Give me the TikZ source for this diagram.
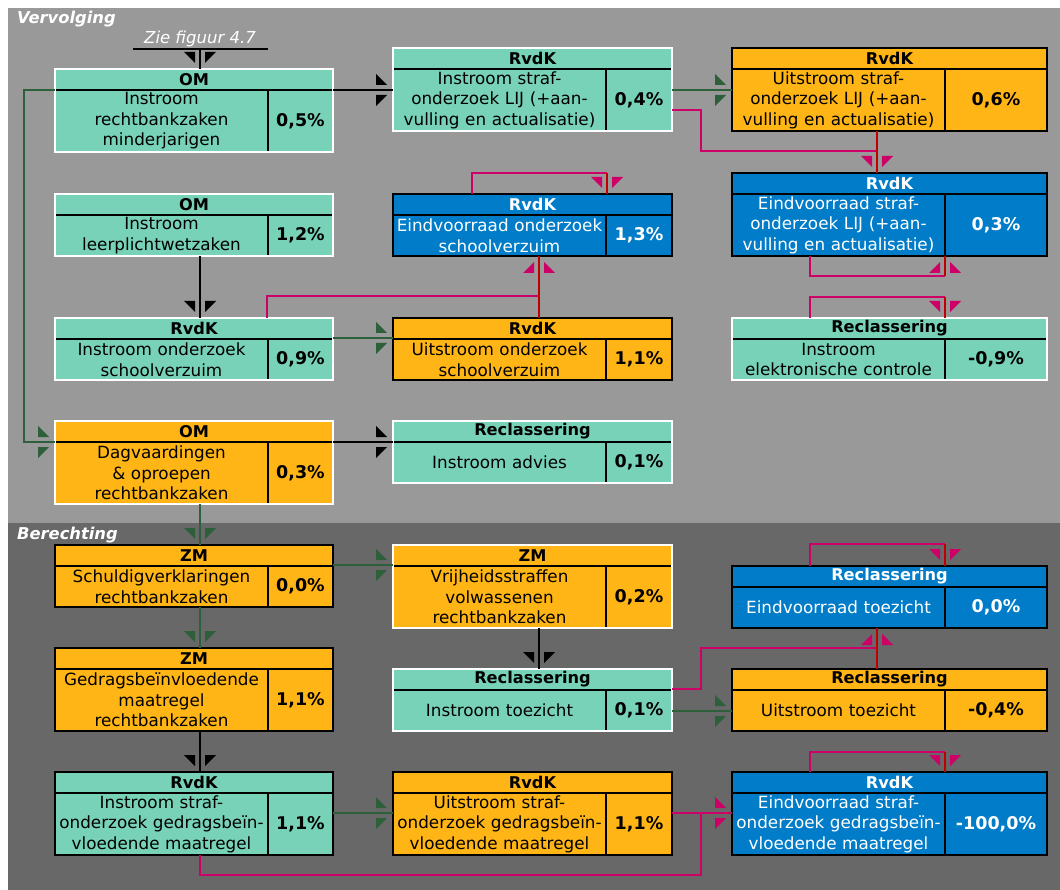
\documentclass[tikz,border=0pt]{standalone}
\usepackage{fontspec}
\setmainfont{DejaVu Sans}
\usetikzlibrary{calc}
\definecolor{cgreen}{HTML}{77D2B8}
\definecolor{corange}{HTML}{FFB515}
\definecolor{cblue}{HTML}{007CC8}
\definecolor{clight}{HTML}{999999}
\definecolor{cdark}{HTML}{686868}
\definecolor{cline}{HTML}{2D5F3B}
\definecolor{cmag}{HTML}{CC0066}
\definecolor{cred}{HTML}{C00000}
\tikzset{
  gw/.style={bfill/.style={fill=cgreen}, bdraw/.style={draw=white}, txt/.style={text=black}},
  gb/.style={bfill/.style={fill=cgreen}, bdraw/.style={draw=black}, txt/.style={text=black}},
  ow/.style={bfill/.style={fill=corange}, bdraw/.style={draw=white}, txt/.style={text=black}},
  ob/.style={bfill/.style={fill=corange}, bdraw/.style={draw=black}, txt/.style={text=black}},
  bb/.style={bfill/.style={fill=cblue}, bdraw/.style={draw=black}, txt/.style={text=white}},
  innerline/.style={draw=black, line width=2.2pt},
  borderline/.style={line width=2.6pt},
  headtext/.style={font=\bfseries\fontsize{16.2}{18}\selectfont, inner sep=0pt},
  bodytext/.style={font=\fontsize{16.8}{20.5}\selectfont, text width=213pt, align=center, inner sep=0pt},
  valtext/.style={font=\bfseries\fontsize{17.5}{19}\selectfont, inner sep=0pt},
  kline/.style={draw=black, line width=2.6pt},
  gline/.style={draw=cline, line width=2.6pt},
  mline/.style={draw=cmag, line width=2.6pt},
  rline/.style={draw=cred, line width=2.6pt},
  title/.style={text=white, font=\bfseries\itshape\fontsize{16.3}{18}\selectfont, inner sep=0pt, anchor=base west},
}
% name, x, y, width, height, scheme, header, body, value
\newcommand\flowbox[9]{%
\begin{scope}[#6]
 \node[bfill, minimum width=#4pt, minimum height=#5pt, anchor=north west, inner sep=0pt, outer sep=0pt] (#1) at (#2,#3) {};
 \draw[innerline] ([yshift=-21pt]#1.north west) -- ([yshift=-21pt]#1.north east);
 \draw[innerline] ([xshift=213pt,yshift=-21pt]#1.north west) -- ([xshift=213pt]#1.south west);
 \draw[borderline, bdraw] (#1.north west) rectangle (#1.south east);
 \node[headtext, txt] (#1-h) at ([yshift=-10.5pt]#1.north) {#7};
 \node[bodytext, txt] (#1-b) at ($([yshift=-21pt]#1.north west)!0.5!([xshift=213pt]#1.south west)$) {#8};
 \node[valtext, txt] (#1-v) at ($([xshift=213pt,yshift=-21pt]#1.north west)!0.5!(#1.south east)$) {#9};
\end{scope}}
% entry markers: colour, x, y
\newcommand\tentry[3]{\begin{scope}[shift={(#2,#3)}]
 \fill[#1] (-16,-17) -- (-5,-17) -- (-5,-6) -- cycle;
 \fill[#1] (16,-17) -- (5,-17) -- (5,-6) -- cycle;\end{scope}}
\newcommand\bentry[3]{\begin{scope}[shift={(#2,#3)}]
 \fill[#1] (-16,17) -- (-5,17) -- (-5,6) -- cycle;
 \fill[#1] (16,17) -- (5,17) -- (5,6) -- cycle;\end{scope}}
\newcommand\lentry[3]{\begin{scope}[shift={(#2,#3)}]
 \fill[#1] (-17,-16) -- (-17,-5) -- (-6,-5) -- cycle;
 \fill[#1] (-17,16) -- (-17,5) -- (-6,5) -- cycle;\end{scope}}
\begin{document}
\begin{tikzpicture}[x=1pt, y=-1pt]
\useasboundingbox (0,0) rectangle (1060,890);
\fill[white] (0,0) rectangle (1060,890);
\fill[clight] (8,8) rectangle (1060,523);
\fill[cdark] (8,523) rectangle (1060,890);
\node[title] (tv) at (17,23.5) {Vervolging};
\node[title] (tb) at (17,539) {Berechting};
\node[text=white, font=\itshape\fontsize{16.5}{18}\selectfont, inner sep=0pt, anchor=base] (zf) at (200,44) {Zie figuur 4.7};

\flowbox{om1}{55}{69}{278}{83}{gw}{OM}{Instroom\\rechtbankzaken\\minderjarigen}{0,5\%}
\flowbox{lij1}{393}{48}{279}{83}{gw}{RvdK}{Instroom straf-\\onderzoek LIJ (+aan-\\vulling en actualisatie)}{0,4\%}
\flowbox{lij2}{732}{48}{315}{83}{ob}{RvdK}{Uitstroom straf-\\onderzoek LIJ (+aan-\\vulling en actualisatie)}{0,6\%}
\flowbox{lijE}{732}{173}{315}{83}{bb}{RvdK}{Eindvoorraad straf-\\onderzoek LIJ (+aan-\\vulling en actualisatie)}{0,3\%}
\flowbox{lpw}{55}{194}{278}{62}{gw}{OM}{Instroom\\leerplichtwetzaken}{1,2\%}
\flowbox{svE}{393}{194}{279}{62}{bb}{RvdK}{Eindvoorraad onderzoek\\schoolverzuim}{1,3\%}
\flowbox{sv1}{55}{318}{278}{62}{gw}{RvdK}{Instroom onderzoek\\schoolverzuim}{0,9\%}
\flowbox{sv2}{393}{318}{279}{62}{ob}{RvdK}{Uitstroom onderzoek\\schoolverzuim}{1,1\%}
\flowbox{elek}{732}{318}{315}{62}{gw}{Reclassering}{Instroom\\elektronische controle}{-0,9\%}
\flowbox{dag}{55}{421}{278}{83}{ow}{OM}{Dagvaardingen\\\& oproepen\\rechtbankzaken}{0,3\%}
\flowbox{adv}{393}{421}{279}{62}{gw}{Reclassering}{Instroom advies}{0,1\%}
\flowbox{zm1}{55}{545}{278}{62}{ob}{ZM}{Schuldigverklaringen\\rechtbankzaken}{0,0\%}
\flowbox{vrij}{393}{545}{279}{83}{ow}{ZM}{Vrijheidsstraffen\\volwassenen\\rechtbankzaken}{0,2\%}
\flowbox{toezE}{732}{566}{315}{62}{bb}{Reclassering}{Eindvoorraad toezicht}{0,0\%}
\flowbox{gedr}{55}{648}{278}{83}{ob}{ZM}{Gedragsbeïnvloedende\\maatregel\\rechtbankzaken}{1,1\%}
\flowbox{toez1}{393}{669}{279}{62}{gw}{Reclassering}{Instroom toezicht}{0,1\%}
\flowbox{toez2}{732}{669}{315}{62}{ob}{Reclassering}{Uitstroom toezicht}{-0,4\%}
\flowbox{gi}{55}{772}{278}{83}{gb}{RvdK}{Instroom straf-\\onderzoek gedragsbeïn-\\vloedende maatregel}{1,1\%}
\flowbox{gu}{393}{772}{279}{83}{ob}{RvdK}{Uitstroom straf-\\onderzoek gedragsbeïn-\\vloedende maatregel}{1,1\%}
\flowbox{gE}{732}{772}{315}{83}{bb}{RvdK}{Eindvoorraad straf-\\onderzoek gedragsbeïn-\\vloedende maatregel}{-100,0\%}

% black connectors
\coordinate (zfa) at (133,49); \coordinate (zfb) at (268,49); \coordinate (zfm) at (200,49);
\draw[kline] (zfa) -- (zfb);
\draw[kline] (zfm) -- (om1.north -| zfm);
\draw[kline] (om1.east |- 0,90) -- (lij1.west |- 0,90);
\draw[kline] (lpw.south -| 200,0) -- (sv1.north -| 200,0);
\draw[kline] (dag.east |- 0,442) -- (adv.west |- 0,442);
\draw[kline] (vrij.south -| 539,0) -- (toez1.north -| 539,0);
\draw[kline] (gedr.south -| 200,0) -- (gi.north -| 200,0);
% green connectors
\draw[gline] (om1.west |- 0,90) -- (24,90) -- (24,442) -- (dag.west |- 0,442);
\draw[gline] (lij1.east |- 0,90) -- (lij2.west |- 0,90);
\draw[gline] (sv1.east |- 0,338) -- (sv2.west |- 0,338);
\draw[gline] (dag.south -| 200,0) -- (zm1.north -| 200,0);
\draw[gline] (zm1.east |- 0,565) -- (vrij.west |- 0,565);
\draw[gline] (zm1.south -| 200,0) -- (gedr.north -| 200,0);
\draw[gline] (toez1.east |- 0,711) -- (toez2.west |- 0,711);
\draw[gline] (gi.east |- 0,813) -- (gu.west |- 0,813);
% magenta / red connectors
\draw[mline] (lij1.east |- 0,110) -- (701,110) -- (701,151) -- (877,151) -- (lijE.north -| 877,0);
\draw[rline] (lij2.south -| 877,0) -- (lijE.north -| 877,0);
\draw[mline] (lijE.south -| 810,0) -- (810,276) -- (945,276);
\draw[rline] (945,276) -- (lijE.south -| 945,0);
\draw[mline] (elek.north -| 810,0) -- (810,297) -- (945,297);
\draw[rline] (945,297) -- (elek.north -| 945,0);
\draw[mline] (svE.north -| 472,0) -- (472,173) -- (607,173);
\draw[rline] (607,173) -- (svE.north -| 607,0);
\draw[mline] (sv1.north -| 267,0) -- (267,296) -- (539,296) -- (svE.south -| 539,0);
\draw[rline] (sv2.north -| 539,0) -- (svE.south -| 539,0);
\draw[mline] (toez1.east |- 0,689) -- (701,689) -- (701,648) -- (877,648) -- (toezE.south -| 877,0);
\draw[rline] (toez2.north -| 877,0) -- (toezE.south -| 877,0);
\draw[mline] (toezE.north -| 810,0) -- (810,544) -- (945,544);
\draw[rline] (945,544) -- (toezE.north -| 945,0);
\draw[mline] (gu.east |- 0,813) -- (gE.west |- 0,813);
\draw[mline] (gi.south -| 200,0) -- (200,875) -- (701,875) -- (701,813);
\draw[mline] (gE.north -| 810,0) -- (810,752) -- (945,752);
\draw[rline] (945,752) -- (gE.north -| 945,0);

% entry markers
\tentry{black}{200}{69}
\lentry{black}{393}{90}
\lentry{cline}{55}{442}
\lentry{cline}{732}{90}
\tentry{cmag}{877}{173}
\bentry{cmag}{945}{256}
\tentry{cmag}{945}{318}
\tentry{cmag}{607}{194}
\tentry{black}{200}{318}
\lentry{cline}{393}{338}
\bentry{cmag}{539}{256}
\lentry{black}{393}{442}
\tentry{cline}{200}{545}
\lentry{cline}{393}{565}
\tentry{cline}{200}{648}
\tentry{black}{539}{669}
\tentry{black}{200}{772}
\lentry{cline}{732}{711}
\bentry{cmag}{877}{628}
\tentry{cmag}{945}{566}
\lentry{cline}{393}{813}
\lentry{cmag}{732}{813}
\tentry{cmag}{945}{772}
\end{tikzpicture}
\end{document}
